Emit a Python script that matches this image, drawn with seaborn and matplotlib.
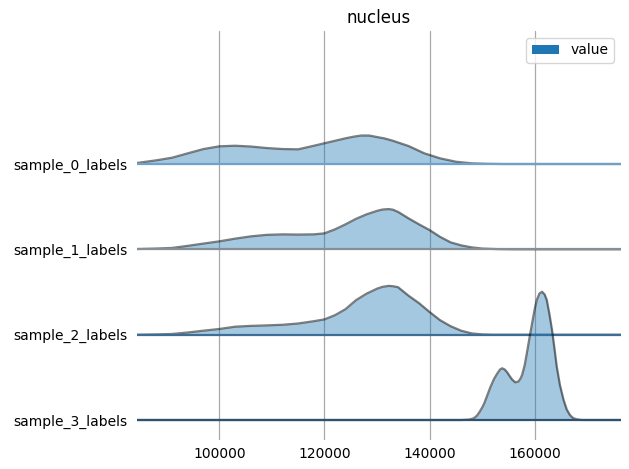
import numpy as np
import pandas as pd
import matplotlib
matplotlib.use("Agg")
import matplotlib.pyplot as plt
from matplotlib.patches import Patch
import seaborn as sns

title = "nucleus"
labels = ["sample_0_labels", "sample_1_labels", "sample_2_labels", "sample_3_labels"]
legend_label = "value"
xticks = [100000, 120000, 140000, 160000]

# density heights (relative units)
x_s0 = [84300, 88000, 91000, 94000, 97000, 100000, 103000, 106000, 109000, 112000, 115000,
        118000, 121000, 124000, 125500, 127000, 128500, 130000, 131500, 133000, 136000,
        139000, 142000, 145000, 148000, 151000, 154000, 176400]
d_s0 = [1.0, 3.7, 6.3, 10.7, 15.0, 17.7, 18.3, 17.5, 16.0, 15.0, 14.7,
        18.3, 22.0, 25.7, 27.3, 28.5, 28.5, 27.0, 25.5, 23.3, 18.0,
        10.7, 5.7, 2.3, 0.7, 0.2, 0.0, 0.0]

x_s1 = [84300, 88000, 91000, 94000, 97000, 100000, 103000, 106000, 109000, 112000, 115000,
        118000, 120000, 122000, 124000, 126000, 128000, 130000, 131000, 132200, 133000,
        134000, 136000, 138000, 140000, 142000, 144000, 146000, 148000, 150000, 153000,
        156000, 176400]
d_s1 = [0.3, 0.8, 1.4, 3.5, 5.8, 8.0, 10.7, 13.0, 14.5, 15.0, 14.8,
        15.0, 16.0, 20.0, 25.0, 30.5, 35.0, 38.5, 39.8, 40.3, 39.7,
        37.5, 31.0, 25.0, 19.3, 12.5, 7.0, 4.0, 2.0, 0.8, 0.2,
        0.0, 0.0]

x_s2 = [84300, 88000, 91000, 94000, 97000, 100000, 103000, 106000, 109000, 112000, 115000,
        118000, 120000, 122000, 124000, 126000, 128000, 130000, 131000, 132200, 133000,
        134000, 136000, 138000, 140000, 142000, 144000, 146000, 148000, 150000, 152000,
        176400]
d_s2 = [0.0, 0.3, 0.7, 2.2, 4.0, 5.7, 8.0, 8.8, 9.3, 9.9, 11.2,
        13.5, 15.3, 19.5, 25.5, 34.5, 41.0, 46.0, 47.8, 48.8, 48.5,
        47.5, 39.0, 31.5, 22.7, 14.5, 8.5, 4.0, 1.3, 0.3, 0.0,
        0.0]

x_s3 = [84300, 146000, 147500, 148400, 149000, 149500, 150000, 150400, 151000, 151600,
        152300, 152900, 153400, 153800, 154300, 154800, 155100, 155700, 156300, 156900,
        157300, 157600, 158100, 158500, 159000, 159500, 160000, 160400, 160900, 161400,
        161900, 162300, 162800, 163300, 163800, 164200, 164800, 165500, 166100, 166700,
        167300, 168000, 169000, 176400]
d_s3 = [0.0, 0.0, 0.4, 1.7, 4.3, 8.0, 12.5, 16.7, 25.0, 33.3,
        41.5, 46.7, 50.5, 51.7, 50.5, 47.5, 45.0, 40.5, 37.7, 38.5,
        41.5, 45.0, 55.0, 66.7, 82.0, 96.7, 111.0, 120.0, 126.5, 128.3,
        125.5, 120.0, 106.0, 90.0, 70.0, 53.3, 35.0, 20.0, 10.5, 5.0,
        2.0, 0.7, 0.0, 0.0]

curves = [(x_s0, d_s0), (x_s1, d_s1), (x_s2, d_s2), (x_s3, d_s3)]

sns.set_style("white")
plt.rcParams['font.family'] = ['DejaVu Sans']
plt.rcParams['text.color'] = 'black'
plt.rcParams['xtick.color'] = 'black'
plt.rcParams['ytick.color'] = 'black'
plt.rcParams['axes.labelcolor'] = 'black'

W, H = 629, 469
fig = plt.figure(figsize=(W / 100, H / 100), dpi=100)
ax = fig.add_axes([137 / W, 29 / H, 484 / W, 409 / H])

xmin, xmax = 84342, 176418
spacing = 85.33
base_colors = ['#6ea2cb', '#878f96', '#3e6e95', '#2d5272']
offsets = []
for i, (xs, ds) in enumerate(curves):
    off = (len(curves) - 1 - i) * spacing
    offsets.append(off)
    ys = np.array(ds) + off
    ax.fill_between(xs, off, ys, color="#1f77b4", alpha=0.4, lw=0, zorder=2 + 3 * i)
    df = pd.DataFrame({"x": xs, "y": ys})
    sns.lineplot(data=df, x="x", y="y", ax=ax, color="black", alpha=0.5, lw=1.6,
                 legend=False, zorder=3 + 3 * i)
    ax.plot([xmin, xmax], [off, off], color=base_colors[i], lw=1.6, zorder=4 + 3 * i,
            solid_capstyle='butt')

ax.set_xlim(xmin, xmax)
ax.set_ylim(-20, 389)
ax.set_yticks(offsets)
ax.set_yticklabels(labels)
ax.set_xticks(xticks)
ax.set_xticklabels([str(t) for t in xticks])
ax.set_xlabel("")
ax.set_ylabel("")
ax.grid(axis='x', color='#a9a9a9', lw=0.9)
ax.grid(axis='y', visible=False)
ax.set_axisbelow(True)
sns.despine(ax=ax, left=True, bottom=True, top=True, right=True)
ax.tick_params(axis='y', length=0, pad=7, labelsize=10)
ax.tick_params(axis='x', length=0, pad=5, labelsize=10)
ax.set_title(title, fontsize=12)
ax.legend(handles=[Patch(facecolor="#1f77b4", edgecolor="#1f77b4", linewidth=0,
                         label=legend_label)], loc="upper right")

fig.savefig("out.png", dpi=100)
